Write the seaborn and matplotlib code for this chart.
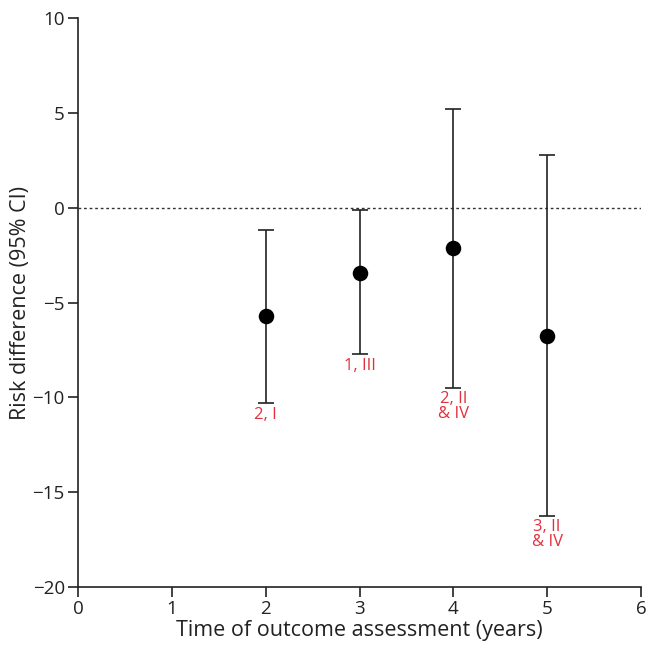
import matplotlib
matplotlib.use("Agg")
import matplotlib.pyplot as plt
import seaborn as sns
import pandas as pd
import numpy as np

years = [2, 3, 4, 5]
risk_diff = [-5.69, -3.45, -2.14, -6.78]
ci_lower = [-10.32, -7.74, -9.49, -16.24]
ci_upper = [-1.17, -0.12, 5.22, 2.80]
labels = ["2, I", "1, III", "2, II\n& IV", "3, II\n& IV"]
x_ticks = [0, 1, 2, 3, 4, 5, 6]
y_ticks = [-20, -15, -10, -5, 0, 5, 10]

df = pd.DataFrame({"year": years, "rd": risk_diff, "lo": ci_lower, "hi": ci_upper, "label": labels})

sns.set_style("ticks")
plt.rcParams['font.family'] = ['Open Sans', 'DejaVu Sans']

fig = plt.figure(figsize=(6.47, 6.49), dpi=100)
ax = fig.add_axes([78/647, 1 - 587/649, (641-78)/647, (587-18)/649])

ax.axhline(0, color="#333333", linestyle=(0, (2, 2)), linewidth=1.0, zorder=1)

yerr = np.array([df["rd"] - df["lo"], df["hi"] - df["rd"]])
ax.errorbar(df["year"], df["rd"], yerr=yerr, fmt="none", ecolor="#222222",
            elinewidth=1.2, capsize=6, capthick=1.2, zorder=2)
sns.scatterplot(data=df, x="year", y="rd", ax=ax, color="black", s=125,
                edgecolor="black", linewidth=0, zorder=3, legend=False)

for _, r in df.iterrows():
    ax.text(r["year"], r["lo"] - 0.2, r["label"], color="#e0313d", ha="center",
            va="top", fontsize=12, linespacing=0.9)

ax.set_xlim(0, 6)
ax.set_ylim(-20, 10)
ax.set_xticks(x_ticks)
ax.set_yticks(y_ticks)
ax.set_yticklabels([f"{t}".replace("-", "\u2212") for t in y_ticks])
ax.set_xlabel("Time of outcome assessment (years)", fontsize=15.5, color="#222222", labelpad=1)
ax.set_ylabel("Risk difference (95% CI)", fontsize=15.5, color="#222222", labelpad=1)
ax.tick_params(axis="both", labelsize=13.5, colors="#222222", length=7.5, width=1.2,
               direction="out", pad=2)
for s in ["top", "right"]:
    ax.spines[s].set_visible(False)
for s in ["left", "bottom"]:
    ax.spines[s].set_linewidth(1.2)
    ax.spines[s].set_color("#222222")

fig.savefig("out.png", dpi=100, facecolor="white")
